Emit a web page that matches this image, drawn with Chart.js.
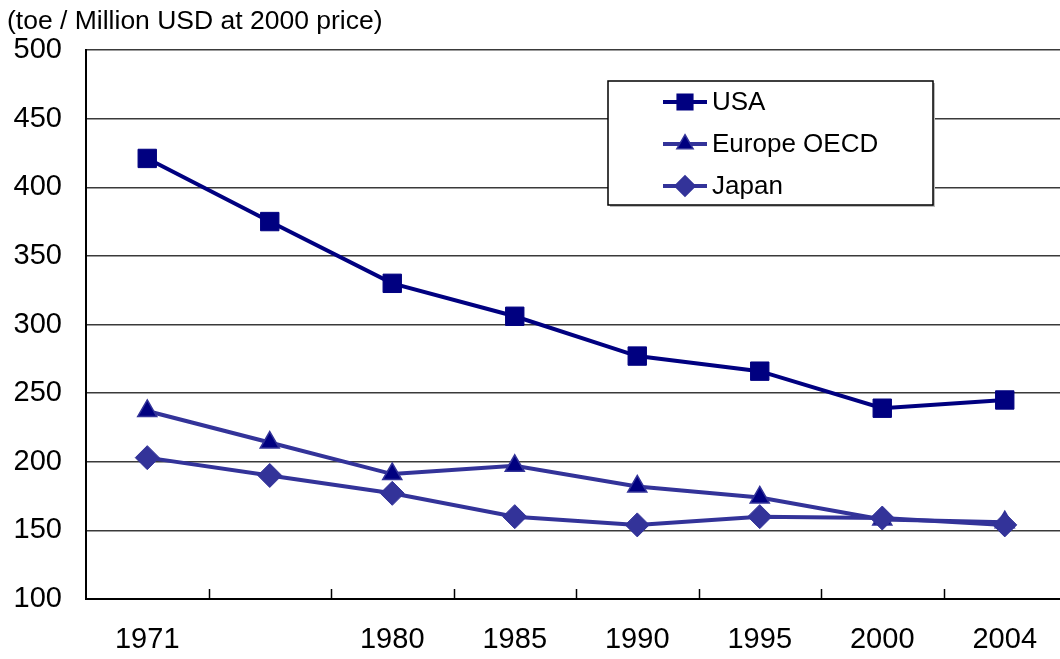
<!DOCTYPE html>
<html>
<head>
<meta charset="utf-8">
<script src="https://cdn.jsdelivr.net/npm/chart.js@4.4.1/dist/chart.umd.min.js"></script>
<style>
  html, body { margin: 0; padding: 0; background: #fff; overflow: hidden; }
  #wrap { width: 1060px; height: 659px; position: relative; overflow: hidden; }
</style>
</head>
<body>
<div id="wrap"><canvas id="chart" width="1066" height="659"></canvas></div>
<script>
// ================= DATA =================
const years = ["1971", "", "1980", "1985", "1990", "1995", "2000", "2004"];
const usa = [421, 375, 330, 306, 277, 266, 239, 245];
const europe = [237, 214, 191, 197, 182, 174, 158, 156];
const japan = [203, 190, 177, 160, 154, 160, 159, 154];
const yMin = 100, yMax = 500, yStep = 50;
const unitLabel = "(toe / Million USD at 2000 price)";

const FONT = "'Liberation Sans', Arial, sans-serif";

// unit text at top left
const unitPlugin = {
  id: "unitText",
  afterDraw(chart) {
    const ctx = chart.ctx;
    ctx.save();
    ctx.font = "26.5px " + FONT;
    ctx.fillStyle = "#000";
    ctx.textBaseline = "alphabetic";
    ctx.fillText(unitLabel, 7, 29);
    ctx.restore();
  }
};

// small ticks pointing up at the category boundaries
const innerTicks = {
  id: "innerTicks",
  afterDatasetsDraw(chart) {
    const x = chart.scales.x, area = chart.chartArea, ctx = chart.ctx;
    const half = (x.getPixelForValue(1) - x.getPixelForValue(0)) / 2;
    ctx.save();
    ctx.strokeStyle = "#000";
    ctx.lineWidth = 1.5;
    for (let i = 1; i < years.length; i++) {
      const px = Math.round(x.getPixelForValue(i) - half) + 0.5;
      ctx.beginPath();
      ctx.moveTo(px, area.bottom);
      ctx.lineTo(px, area.bottom - 10);
      ctx.stroke();
    }
    ctx.restore();
  }
};

// boxed legend inside the plot
const boxLegend = {
  id: "boxLegend",
  afterDraw(chart) {
    const ctx = chart.ctx;
    const bx = 608, by = 81, bw = 325, bh = 124;
    ctx.save();
    ctx.fillStyle = "#bbb";
    ctx.fillRect(bx + 2, by + 2, bw, bh);
    ctx.fillStyle = "#fff";
    ctx.fillRect(bx, by, bw, bh);
    ctx.strokeStyle = "#000";
    ctx.lineWidth = 1.5;
    ctx.strokeRect(bx, by, bw, bh);
    chart.data.datasets.forEach((ds, i) => {
      const cy = 102 + i * 42;
      ctx.strokeStyle = ds.borderColor;
      ctx.lineWidth = ds.borderWidth;
      ctx.beginPath();
      ctx.moveTo(663, cy);
      ctx.lineTo(707, cy);
      ctx.stroke();
      ctx.fillStyle = ds.pointBackgroundColor;
      ctx.strokeStyle = ds.pointBorderColor;
      ctx.lineWidth = 1.5;
      Chart.helpers.drawPoint(ctx, { pointStyle: ds.pointStyle, radius: ds.pointRadius * 0.85, borderWidth: 1.5, rotation: 0 }, 685, cy);
      ctx.fillStyle = "#000";
      ctx.font = "26px " + FONT;
      ctx.textBaseline = "middle";
      ctx.fillText(ds.label, 712, cy + 1);
    });
    ctx.restore();
  }
};

new Chart(document.getElementById("chart"), {
  type: "line",
  data: {
    labels: years,
    datasets: [
      {
        label: "USA", data: usa, order: 0,
        borderColor: "#000080", borderWidth: 4,
        pointStyle: "rect", pointRadius: 13,
        pointBackgroundColor: "#000080", pointBorderColor: "#000080", pointBorderWidth: 1
      },
      {
        label: "Europe OECD", data: europe, order: 2,
        borderColor: "#333399", borderWidth: 4,
        pointStyle: "triangle", pointRadius: 11,
        pointBackgroundColor: "#000080", pointBorderColor: "#333399", pointBorderWidth: 1.5
      },
      {
        label: "Japan", data: japan, order: 1,
        borderColor: "#333399", borderWidth: 4,
        pointStyle: "rectRot", pointRadius: 12,
        pointBackgroundColor: "#333399", pointBorderColor: "#333399", pointBorderWidth: 1
      }
    ]
  },
  options: {
    responsive: false,
    animation: false,
    layout: { autoPadding: false, padding: { top: 50, right: 0, left: 0, bottom: 0 } },
    plugins: { legend: { display: false }, tooltip: { enabled: false } },
    scales: {
      x: {
        type: "category",
        offset: true,
        grid: { display: false },
        border: { display: true, color: "#000", width: 2 },
        ticks: { color: "#000", font: { size: 29, family: FONT }, padding: 16, maxRotation: 0, autoSkip: false },
        afterFit(scale) { scale.height = 60; scale.paddingLeft = 0; scale.paddingRight = 0; }
      },
      y: {
        min: yMin, max: yMax,
        grid: { color: "#3a3a3a", lineWidth: 1.5, drawTicks: false },
        border: { display: true, color: "#000", width: 2 },
        ticks: { stepSize: yStep, color: "#000", font: { size: 29, family: FONT }, padding: 24 },
        afterFit(scale) { scale.width = 86; }
      }
    }
  },
  plugins: [unitPlugin, innerTicks, boxLegend]
});
</script>
</body>
</html>
